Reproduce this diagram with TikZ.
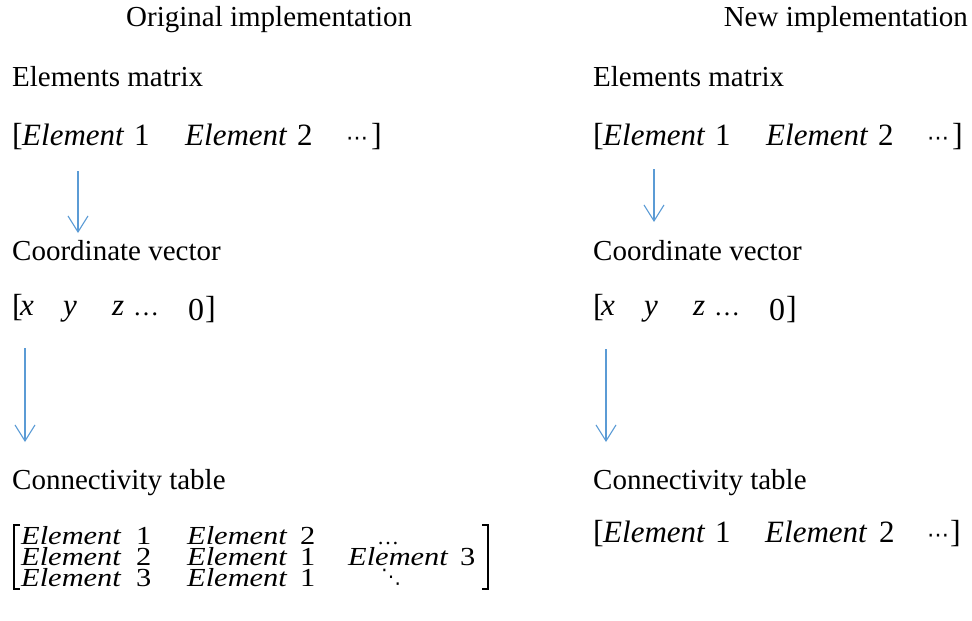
\documentclass[tikz,border=0pt]{standalone}
\usepackage{fontspec}
\setmainfont{Liberation Serif}
\newfontfamily\symfont{DejaVu Sans}
\newfontfamily\widefont{Liberation Serif}[FakeStretch=1.17]
\usetikzlibrary{arrows.meta}
\definecolor{arrblue}{HTML}{5B9BD5}
\newcommand\txtsize{\fontsize{29}{35}\selectfont}
\newcommand\misize{\fontsize{31}{36}\selectfont\itshape}
\newcommand\nmsize{\fontsize{31}{36}\selectfont}
\newcommand\brsize{\fontsize{32}{36}\selectfont}
\newcommand\mxisize{\widefont\fontsize{26}{28}\selectfont\itshape}
\newcommand\mxnsize{\widefont\fontsize{26}{28}\selectfont}
\begin{document}
\begin{tikzpicture}[x=1pt,y=-1pt,
  lbl/.style={anchor=base west,inner sep=0pt,font=\txtsize},
  mvar/.style={anchor=base west,inner sep=0pt,font=\misize},
  mnum/.style={anchor=base west,inner sep=0pt,font=\nmsize},
  brk/.style={anchor=base west,inner sep=0pt,font=\brsize},
  mxvar/.style={anchor=base west,inner sep=0pt,font=\mxisize,text height=17pt,text depth=1pt},
  mxnum/.style={anchor=base west,inner sep=0pt,font=\mxnsize,text height=17pt,text depth=1pt},
  cdotsym/.style={anchor=base west,inner sep=0pt,font=\symfont\fontsize{22}{26}\selectfont},
  flow/.style={draw=arrblue,line width=1.1pt,-{Straight Barb[length=16pt,width=20pt,line width=1.1pt]}},
  mbrk/.style={draw=black,line width=1.6pt}
]
\useasboundingbox (0,0) rectangle (972,621);

% titles
\node[lbl] (titleL) at (126,27) {Original implementation};
\node[lbl,anchor=base east] (titleR) at (968,27) {New implementation};

\foreach \s/\o in {L/0,R/581}{
  \node[lbl] (elmat\s) at (12+\o,86) {Elements matrix};
  % element row
  \node[brk] (eb1\s) at (12+\o,145) {[};
  \node[mvar] (ee1\s) at (22+\o,145) {Element};
  \node[mnum] (en1\s) at (134+\o,145) {1};
  \node[mvar] (ee2\s) at (185+\o,145) {Element};
  \node[mnum] (en2\s) at (297+\o,145) {2};
  \node[cdotsym] (ed\s) at (346+\o,145) {⋯};
  \node[brk] (eb2\s) at (371+\o,145) {]};
  % coordinate vector
  \node[lbl] (cvec\s) at (12+\o,260) {Coordinate vector};
  \node[brk] (cb1\s) at (12+\o,316) {[};
  \node[mvar] (cx\s) at (20+\o,315) {x};
  \node[mvar] (cy\s) at (63+\o,315) {y};
  \node[mvar] (cz\s) at (112+\o,315) {z};
  \node[anchor=base west,inner sep=0pt,font=\fontsize{26}{28}\selectfont] (cd\s) at (133+\o,315) {…};
  \node[anchor=base west,inner sep=0pt,font=\fontsize{32}{36}\selectfont] (c0\s) at (188+\o,320) {0};
  \node[brk] (cb2\s) at (205+\o,318) {]};
  % connectivity
  \node[lbl] (ctab\s) at (12+\o,489) {Connectivity table};
}

% right connectivity row
\node[brk] (rb1) at (593,542) {[};
\node[mvar] (re1) at (603,542) {Element};
\node[mnum] (rn1) at (715,542) {1};
\node[mvar] (re2) at (765,542) {Element};
\node[mnum] (rn2) at (879,542) {2};
\node[cdotsym] (rd) at (927,542) {⋯};
\node[brk] (rb2) at (950,542) {]};

% left connectivity matrix
\node[mxvar] (m11) at (21,544) {Element};
\node[mxnum] (m11n) at (136,544) {1};
\node[mxvar] (m12) at (187,544) {Element};
\node[mxnum] (m12n) at (300,544) {2};
\node[anchor=base,inner sep=0pt,font=\fontsize{22}{24}\selectfont,text height=4pt,text depth=0pt] (m13) at (388,544) {…};
\node[mxvar] (m21) at (21,565) {Element};
\node[mxnum] (m21n) at (136,565) {2};
\node[mxvar] (m22) at (187,565) {Element};
\node[mxnum] (m22n) at (300,565) {1};
\node[mxvar] (m23) at (348,565) {Element};
\node[mxnum] (m23n) at (460,565) {3};
\node[mxvar] (m31) at (21,586) {Element};
\node[mxnum] (m31n) at (136,586) {3};
\node[mxvar] (m32) at (187,586) {Element};
\node[mxnum] (m32n) at (300,586) {1};
\node[inner sep=0pt,font=\symfont\fontsize{20}{22}\selectfont] (m33) at (391,577) {⋱};
\draw[mbrk] (20,525) -- (14,525) -- (14,589) -- (20,589);
\draw[mbrk] (482,525) -- (488,525) -- (488,589) -- (482,589);

% arrows
\coordinate (a1s) at (78,171);  \coordinate (a1e) at (78,233);
\coordinate (a2s) at (25,348);  \coordinate (a2e) at (25,442);
\coordinate (a3s) at (654,169); \coordinate (a3e) at (654,222);
\coordinate (a4s) at (606,349); \coordinate (a4e) at (606,442);
\draw[flow] (a1s) -- (a1e);
\draw[flow] (a2s) -- (a2e);
\draw[flow] (a3s) -- (a3e);
\draw[flow] (a4s) -- (a4e);
\end{tikzpicture}
\end{document}
